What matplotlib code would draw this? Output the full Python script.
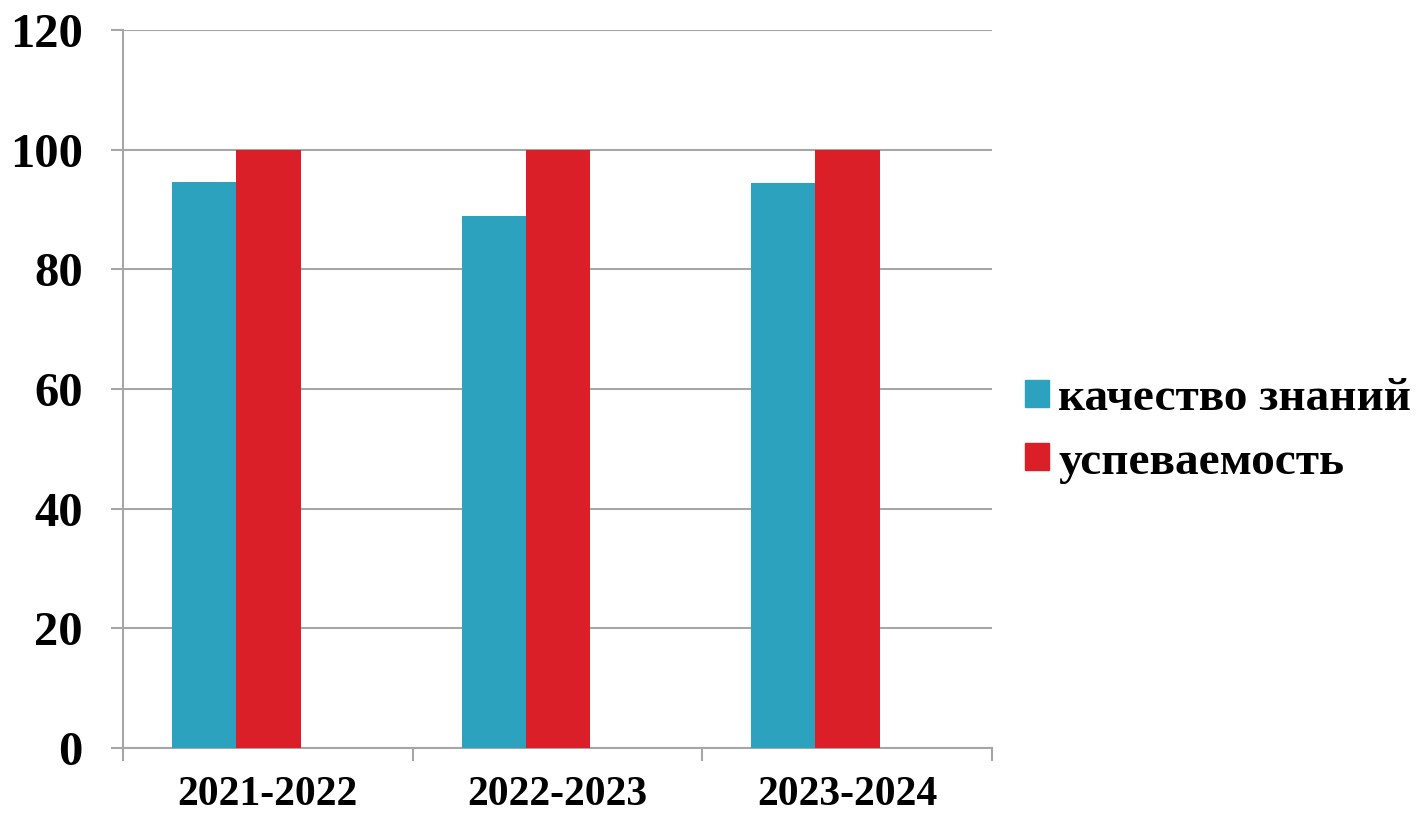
import numpy as np
import matplotlib.pyplot as plt
from matplotlib.patches import Patch

# data
years = ['2021-2022', '2022-2023', '2023-2024']
kachestvo = [94.6, 88.9, 94.4]
uspevaemost = [100, 100, 100]
series_names = ['качество знаний', 'успеваемость']
colors = ['#2CA2BE', '#DA1F28']

plt.rcParams['font.family'] = ['Liberation Serif', 'DejaVu Serif']
plt.rcParams['font.weight'] = 'bold'

fig = plt.figure(figsize=(14.22, 8.13), dpi=100)
ax = fig.add_axes([0.0865, 0.08, 0.611, 0.883])

x = np.arange(len(years))
w = 0.222
ax.bar(x - 0.331, kachestvo, width=w, color=colors[0], align='edge', zorder=3)
ax.bar(x - 0.109, uspevaemost, width=w, color=colors[1], align='edge', zorder=3)

ax.set_xlim(-0.5, 2.5)
ax.set_ylim(0, 120)
ax.set_yticks(range(0, 121, 20))
ax.yaxis.grid(True, color='#a6a6a6', linewidth=1.5, zorder=0)
ax.tick_params(axis='y', length=9, width=1.5, color='#a6a6a6', labelsize=35, pad=20)

ax.set_xticks(x)
ax.set_xticklabels(years)
ax.set_xticks(np.arange(-0.5, 2.6, 1), minor=True)
ax.tick_params(axis='x', which='major', length=0, labelsize=30, pad=20)
ax.tick_params(axis='x', which='minor', length=9, width=1.5, color='#a6a6a6')

for s in ['top', 'right']:
    ax.spines[s].set_visible(False)
for s in ['left', 'bottom']:
    ax.spines[s].set_color('#a6a6a6')
    ax.spines[s].set_linewidth(1.5)

handles = [Patch(color=c) for c in colors]
fig.legend(handles, series_names, loc='center left', bbox_to_anchor=(0.691, 0.47),
           frameon=False, fontsize=34, handlelength=0.5, handleheight=0.5,
           handletextpad=0.2, labelspacing=0.45)

fig.savefig('out.png', dpi=100)
